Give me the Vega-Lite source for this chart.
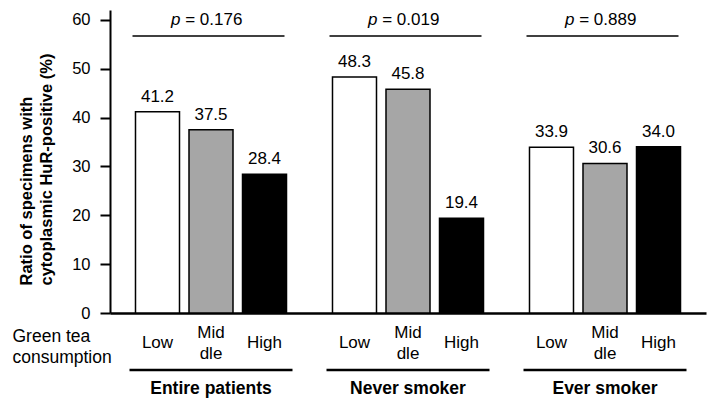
{
  "$schema": "https://vega.github.io/schema/vega-lite/v6.json",
  "width": 596,
  "height": 303,
  "autosize": {"type": "none"},
  "padding": {"left": 110, "top": 10, "right": 2, "bottom": 97},
  "background": "white",
  "config": {
    "view": {"stroke": null},
    "font": "Liberation Sans",
    "axis": {"grid": false}
  },
  "datasets": {
    "bars": [
      {"group": "Entire patients", "level": "Low", "label": "Low", "value": 41.2},
      {"group": "Entire patients", "level": "Middle", "label": "Mid\ndle", "value": 37.5},
      {"group": "Entire patients", "level": "High", "label": "High", "value": 28.4},
      {"group": "Never smoker", "level": "Low", "label": "Low", "value": 48.3},
      {"group": "Never smoker", "level": "Middle", "label": "Mid\ndle", "value": 45.8},
      {"group": "Never smoker", "level": "High", "label": "High", "value": 19.4},
      {"group": "Ever smoker", "level": "Low", "label": "Low", "value": 33.9},
      {"group": "Ever smoker", "level": "Middle", "label": "Mid\ndle", "value": 30.6},
      {"group": "Ever smoker", "level": "High", "label": "High", "value": 34.0}
    ],
    "pvals": [
      {"group": "Entire patients", "p": "0.176"},
      {"group": "Never smoker", "p": "0.019"},
      {"group": "Ever smoker", "p": "0.889"}
    ]
  },
  "encoding": {
    "x": {
      "field": "group",
      "type": "nominal",
      "sort": ["Entire patients", "Never smoker", "Ever smoker"],
      "scale": {"paddingInner": 0.1726, "paddingOuter": 0.099},
      "axis": {
        "title": ["Green tea", "consumption"],
        "titleFontSize": 17.5,
        "titleFontWeight": "normal",
        "titleColor": "black",
        "titleAngle": 0,
        "titleAlign": "left",
        "titleBaseline": "alphabetic",
        "titleX": -98,
        "titleY": 28,
        "titleLineHeight": 21,
        "labelFontSize": 17.5,
        "labelFontWeight": "bold",
        "labelColor": "black",
        "labelAngle": 0,
        "labelBaseline": "alphabetic",
        "labelPadding": 80,
        "ticks": false,
        "tickSize": 0,
        "domainColor": "black",
        "domainWidth": 2.5
      }
    }
  },
  "layer": [
    {
      "data": {"name": "bars"},
      "mark": {"type": "bar", "stroke": "black", "strokeWidth": 1.5},
      "encoding": {
        "xOffset": {
          "field": "level",
          "type": "nominal",
          "sort": ["Low", "Middle", "High"],
          "scale": {"paddingInner": 0.1776, "paddingOuter": 0.112}
        },
        "y": {
          "field": "value",
          "type": "quantitative",
          "scale": {"domain": [0, 62], "nice": false},
          "axis": {
            "values": [0, 10, 20, 30, 40, 50, 60],
            "title": ["Ratio  of specimens with", "cytoplasmic HuR-positive (%)"],
            "titleFontSize": 16.5,
            "titleFontWeight": "bold",
            "titleColor": "black",
            "titleAngle": 270,
            "titleAlign": "left",
            "titleBaseline": "alphabetic",
            "titleX": -79,
            "titleY": 275,
            "titleLineHeight": 20,
            "labelFontSize": 16.5,
            "labelColor": "black",
            "labelPadding": 10,
            "tickSize": 10,
            "tickWidth": 2,
            "tickColor": "black",
            "domainColor": "black",
            "domainWidth": 2
          }
        },
        "fill": {
          "field": "level",
          "type": "nominal",
          "scale": {"domain": ["Low", "Middle", "High"], "range": ["#ffffff", "#a6a6a6", "#000000"]},
          "legend": null
        }
      }
    },
    {
      "data": {"name": "bars"},
      "mark": {"type": "text", "fontSize": 17, "baseline": "alphabetic", "dy": -10, "color": "black"},
      "encoding": {
        "xOffset": {"field": "level", "type": "nominal", "sort": ["Low", "Middle", "High"]},
        "y": {"field": "value", "type": "quantitative"},
        "text": {"field": "value", "type": "quantitative", "format": ".1f"}
      }
    },
    {
      "data": {"name": "bars"},
      "transform": [{"filter": "datum.level !== 'Middle'"}],
      "mark": {"type": "text", "fontSize": 17, "baseline": "middle", "color": "black", "clip": false},
      "encoding": {
        "xOffset": {"field": "level", "type": "nominal", "sort": ["Low", "Middle", "High"]},
        "y": {"datum": -6.2, "type": "quantitative"},
        "text": {"field": "label"}
      }
    },
    {
      "data": {"name": "bars"},
      "transform": [{"filter": "datum.level === 'Middle'"}],
      "mark": {"type": "text", "fontSize": 17, "baseline": "middle", "lineBreak": "\n", "lineHeight": 21, "dy": -10.5, "color": "black", "clip": false},
      "encoding": {
        "xOffset": {"field": "level", "type": "nominal", "sort": ["Low", "Middle", "High"]},
        "y": {"datum": -6.2, "type": "quantitative"},
        "text": {"field": "label"}
      }
    },
    {
      "data": {"name": "pvals"},
      "mark": {"type": "rule", "strokeWidth": 2.5, "color": "black", "clip": false},
      "encoding": {
        "x": {"field": "group", "type": "nominal", "bandPosition": 0},
        "x2": {"field": "group", "bandPosition": 1},
        "y": {"datum": -11.66, "type": "quantitative"}
      }
    },
    {
      "data": {"name": "pvals"},
      "mark": {"type": "rule", "strokeWidth": 1.5, "color": "black", "xOffset": 3, "x2Offset": -8},
      "encoding": {
        "x": {"field": "group", "type": "nominal", "bandPosition": 0},
        "x2": {"field": "group", "bandPosition": 1},
        "y": {"datum": 56.7, "type": "quantitative"}
      }
    },
    {
      "data": {"name": "pvals"},
      "mark": {"type": "text", "fontSize": 17, "fontStyle": "italic", "align": "left", "baseline": "alphabetic", "dx": -40, "color": "black"},
      "encoding": {
        "y": {"datum": 59, "type": "quantitative"},
        "text": {"value": "p"}
      }
    },
    {
      "data": {"name": "pvals"},
      "mark": {"type": "text", "fontSize": 17, "align": "left", "baseline": "alphabetic", "dx": -25.8, "color": "black"},
      "encoding": {
        "y": {"datum": 59, "type": "quantitative"},
        "text": {"value": "="}
      }
    },
    {
      "data": {"name": "pvals"},
      "mark": {"type": "text", "fontSize": 17, "align": "left", "baseline": "alphabetic", "dx": -11.2, "color": "black"},
      "encoding": {
        "y": {"datum": 59, "type": "quantitative"},
        "text": {"field": "p"}
      }
    }
  ]
}
